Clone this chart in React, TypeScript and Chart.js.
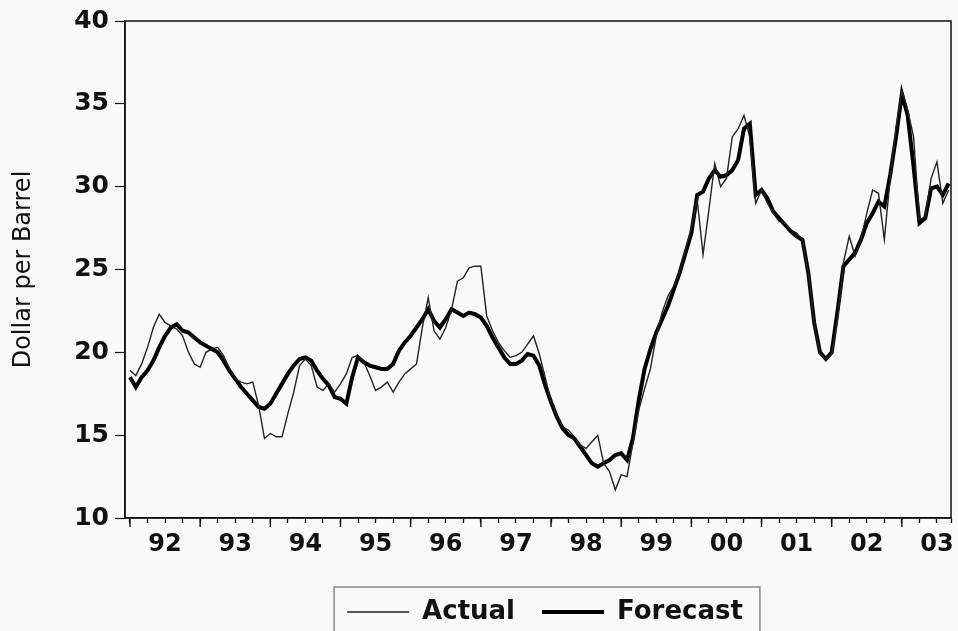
import React, { useEffect, useRef } from "react";
import { Chart, registerables } from "chart.js";

Chart.register(...registerables);

// Monthly observations, Jan 1992 .. Sep 2003 (dollar per barrel)
const ACTUAL = [
  18.9, 18.6, 19.3, 20.3, 21.5, 22.3, 21.8, 21.6, 21.4, 21.0, 20.0, 19.3,
  19.1, 20.0, 20.2, 20.3, 19.8, 19.0, 18.4, 18.2, 18.1, 18.2, 16.8, 14.8,
  15.1, 14.9, 14.9, 16.3, 17.6, 19.2, 19.6, 19.2, 17.9, 17.7, 18.1, 17.6,
  18.1, 18.7, 19.7, 19.8, 19.4, 18.6, 17.7, 17.9, 18.2, 17.6, 18.2, 18.7,
  19.0, 19.3, 21.5, 23.3, 21.3, 20.8, 21.5, 22.6, 24.3, 24.5, 25.1, 25.2,
  25.2, 22.2, 21.3, 20.6, 20.1, 19.7, 19.8, 20.0, 20.5, 21.0, 19.9, 18.5,
  17.0, 16.2, 15.5, 15.3, 14.9, 14.4, 14.2, 14.6, 15.0, 13.3, 12.8, 11.7,
  12.6, 12.5, 14.5, 16.5, 17.8, 19.0, 21.0, 22.4, 23.4, 24.0, 24.8, 26.2,
  27.5, 29.2, 25.9, 28.6, 31.4, 30.0, 30.5, 33.0, 33.5, 34.3, 33.0, 29.0,
  29.8, 29.0, 28.4, 27.9, 27.8, 27.4, 27.2, 26.8, 24.8, 21.8, 19.9, 19.6,
  19.9, 22.0, 25.4, 27.0, 25.8, 26.8, 28.4, 29.8, 29.6, 26.8, 30.5, 33.5,
  35.8, 34.6, 33.0, 28.0, 28.2, 30.5, 31.5, 29.0, 29.8,
];

const FORECAST = [
  18.5, 17.9, 18.5, 18.9, 19.5, 20.3, 21.0, 21.5, 21.7, 21.3, 21.2, 20.9,
  20.6, 20.4, 20.2, 20.0, 19.5, 18.9, 18.4, 17.9, 17.5, 17.1, 16.7, 16.6,
  16.9, 17.5, 18.1, 18.7, 19.2, 19.6, 19.7, 19.5, 18.9, 18.4, 18.0, 17.3,
  17.2, 16.9, 18.5, 19.7, 19.4, 19.2, 19.1, 19.0, 19.0, 19.3, 20.1, 20.6,
  21.0, 21.5, 22.0, 22.6, 21.9, 21.5, 22.0, 22.6, 22.4, 22.2, 22.4, 22.3,
  22.1, 21.6, 20.9, 20.3, 19.7, 19.3, 19.3, 19.5, 19.9, 19.8, 19.2, 18.0,
  17.0, 16.1, 15.4, 15.0, 14.8, 14.3, 13.8, 13.3, 13.1, 13.3, 13.5, 13.8,
  13.9, 13.5, 14.8, 17.1, 19.0, 20.2, 21.2, 22.0, 22.8, 23.8, 24.8, 26.0,
  27.2, 29.5, 29.7, 30.5, 31.0, 30.6, 30.7, 31.0, 31.6, 33.5, 33.8, 29.5,
  29.8, 29.3, 28.5, 28.1, 27.7, 27.3, 27.0, 26.8, 24.8, 21.8, 20.0, 19.6,
  20.0, 22.5, 25.2, 25.6, 26.0, 26.8, 27.8, 28.4, 29.1, 28.8, 30.7, 33.0,
  35.6, 34.3, 31.2, 27.8, 28.1, 29.9, 30.0, 29.5, 30.2,
];

// month index since Jan 1992
const MONTHS = ACTUAL.map((_, i) => i);
const YEAR_LABELS = ["92", "93", "94", "95", "96", "97", "98", "99", "00", "01", "02", "03"];
const Y_TICKS = [10, 15, 20, 25, 30, 35, 40];
const SERIES_NAMES = ["Actual", "Forecast"];

const X_MIN = -0.85;
const X_MAX = 140.4;
const LEGEND_SHIFT = 7;

const framePlugin = {
  id: "frameAndYearTicks",
  afterDraw(chart: any) {
    const { ctx, chartArea } = chart;
    const xs = chart.scales.x;
    ctx.save();
    ctx.strokeStyle = "#111";
    ctx.lineWidth = 1.5;
    ctx.strokeRect(chartArea.left, chartArea.top, chartArea.right - chartArea.left, chartArea.bottom - chartArea.top);
    ctx.lineWidth = 1.4;
    for (let v = 0; v <= X_MAX; v += 12) {
      const px = xs.getPixelForValue(v);
      ctx.beginPath();
      ctx.moveTo(px, chartArea.bottom);
      ctx.lineTo(px, chartArea.bottom + 9);
      ctx.stroke();
    }
    // legend frame
    const lg = chart.legend;
    if (lg && lg.legendHitBoxes && lg.legendHitBoxes.length) {
      const hb = lg.legendHitBoxes;
      const first = hb[0];
      const last = hb[hb.length - 1];
      const left = first.left - 13;
      const right = last.left + last.width + 17;
      const top = first.top - 12;
      ctx.strokeStyle = "#8a8a8a";
      ctx.lineWidth = 1.5;
      ctx.strokeRect(left, top, right - left, chart.height + 10 - top);
    }
    ctx.restore();
  },
  afterLayout(chart: any) {
    const lg = chart.legend;
    if (lg) {
      lg.left += LEGEND_SHIFT;
      lg.right += LEGEND_SHIFT;
    }
  },
};

export default function App() {
  const ref = useRef<HTMLCanvasElement>(null);

  useEffect(() => {
    const canvas = ref.current;
    if (!canvas) return;
    const tickFontX = { family: "'DejaVu Sans', sans-serif", size: 24, weight: "bold" as const };
    const tickFontY = { family: "'DejaVu Sans', sans-serif", size: 25, weight: "bold" as const };

    const chart = new Chart(canvas, {
      type: "line",
      data: {
        datasets: [
          {
            label: SERIES_NAMES[0],
            data: MONTHS.map((m) => ({ x: m, y: ACTUAL[m] })),
            borderColor: "#222",
            backgroundColor: "#222",
            borderWidth: 1.4,
            pointRadius: 0,
            tension: 0,
            fill: false,
          },
          {
            label: SERIES_NAMES[1],
            data: MONTHS.map((m) => ({ x: m, y: FORECAST[m] })),
            borderColor: "#000",
            backgroundColor: "#000",
            borderWidth: 4,
            pointRadius: 0,
            tension: 0,
            fill: false,
          },
        ],
      },
      options: {
        responsive: false,
        animation: false,
        devicePixelRatio: 1,
        layout: { padding: { top: 20, right: 4, left: 0, bottom: 0 } },
        scales: {
          x: {
            type: "linear",
            min: X_MIN,
            max: X_MAX,
            afterBuildTicks: (s: any) => {
              const t: any[] = [];
              for (let v = 0; v <= X_MAX; v += 3) t.push({ value: v });
              t.push({ value: X_MAX });
              s.ticks = t;
            },
            afterFit: (s: any) => {
              s.height = 54;
            },
            ticks: {
              autoSkip: false,
              maxRotation: 0,
              padding: 7,
              color: "#111",
              font: tickFontX,
              callback: (v: any) => {
                const n = Number(v);
                if (Number.isInteger(n) && n % 12 === 6) return YEAR_LABELS[(n - 6) / 12] ?? "";
                return "";
              },
            },
            grid: { drawOnChartArea: false, tickLength: 5, tickColor: "#111", tickWidth: 1.3 },
            border: { color: "#111", width: 1.5 },
          },
          y: {
            min: 10,
            max: 40,
            afterBuildTicks: (s: any) => {
              s.ticks = Y_TICKS.map((v) => ({ value: v }));
            },
            afterFit: (s: any) => {
              s.width = 125;
            },
            ticks: { padding: 6, color: "#111", font: tickFontY },
            grid: { drawOnChartArea: false, tickLength: 10, tickColor: "#111", tickWidth: 1.2 },
            border: { color: "#111", width: 1.5 },
            title: {
              display: true,
              text: "Dollar per Barrel",
              color: "#111",
              font: { family: "'DejaVu Sans', sans-serif", size: 24 },
              padding: { top: 9, bottom: 0 },
            },
          },
        },
        plugins: {
          legend: {
            display: true,
            position: "bottom",
            fullSize: false,
            labels: {
              usePointStyle: true,
              pointStyle: "line",
              pointStyleWidth: 62,
              padding: 27,
              color: "#111",
              font: { family: "'DejaVu Sans', sans-serif", size: 26, weight: "bold" },
            },
          },
          tooltip: { enabled: false },
        },
      },
      plugins: [framePlugin],
    } as any);

    return () => chart.destroy();
  }, []);

  return (
    <div
      style={{
        position: "fixed",
        left: 0,
        top: 0,
        width: 958,
        height: 631,
        overflow: "hidden",
        background: "#f9f9f9",
      }}
    >
      <canvas ref={ref} width={958} height={635} style={{ display: "block" }} />
    </div>
  );
}
